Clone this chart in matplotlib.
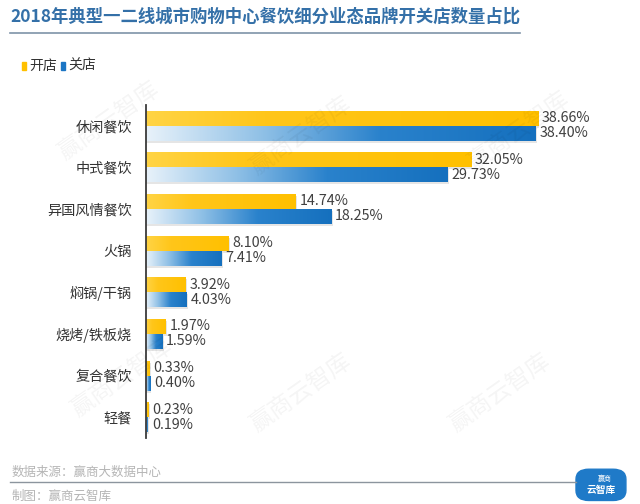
import numpy as np
import matplotlib
matplotlib.use("Agg")
import matplotlib.pyplot as plt
from matplotlib.colors import LinearSegmentedColormap
from matplotlib.patches import Rectangle, FancyBboxPatch

plt.rcParams['font.family'] = ['Noto Sans CJK SC', 'DejaVu Sans']

title = "2018年典型一二线城市购物中心餐饮细分业态品牌开关店数量占比"
categories = ["休闲餐饮", "中式餐饮", "异国风情餐饮", "火锅", "焖锅/干锅",
              "烧烤/铁板烧", "复合餐饮", "轻餐"]
open_pct = [38.66, 32.05, 14.74, 8.10, 3.92, 1.97, 0.33, 0.23]
close_pct = [38.40, 29.73, 18.25, 7.41, 4.03, 1.59, 0.40, 0.19]
series_names = ["开店", "关店"]
source_text = "数据来源：赢商大数据中心"
maker_text = "制图：赢商云智库"
watermark = "赢商云智库"

yellow_cm = LinearSegmentedColormap.from_list(
    "yl", [(0, "#FFD445"), (0.3, "#FFC61A"), (1, "#FFC000")])
blue_cm = LinearSegmentedColormap.from_list(
    "bl", [(0, "#E8F2FA"), (0.3, "#8FC0E6"), (0.6, "#2A82CC"), (1, "#1570BE")])

fig = plt.figure(figsize=(6.4, 5.04), dpi=100)
ax = fig.add_axes([0.228, 0.131, 0.713, 0.661])

h = 0.36
grad = np.linspace(0, 1, 256).reshape(1, -1)
for i, (vo, vc) in enumerate(zip(open_pct, close_pct)):
    for v, off, cm in ((vo, -h / 2, yellow_cm), (vc, h / 2, blue_cm)):
        yc = i + off
        # soft shadow
        ax.add_patch(Rectangle((0, yc - h / 2 + 0.05), v + 0.15, h,
                               color="#9a9a9a", alpha=0.25, lw=0, zorder=1))
        ax.imshow(grad, extent=[0, v, yc + h / 2, yc - h / 2], aspect="auto",
                  cmap=cm, interpolation="bicubic", zorder=2)
        ax.text(v + 0.4, yc, f"{v:.2f}%", va="center", ha="left",
                fontsize=10.3, color="#404040", zorder=3)

ax.set_xlim(0, 45)
ax.set_ylim(len(categories) - 0.5, -0.5)
ax.set_yticks(range(len(categories)))
ax.set_yticklabels(categories, fontsize=10.2, color="#333333")
ax.tick_params(axis="y", length=0, pad=10)
ax.set_xticks([])
for s in ("top", "right", "bottom"):
    ax.spines[s].set_visible(False)
ax.spines["left"].set_color("#3a3a3a")
ax.spines["left"].set_linewidth(1.3)
ax.set_facecolor("none")

# title and rule
fig.text(0.016, 0.968, title, fontsize=12.5, fontweight="bold",
         color="#3470A8", va="center", ha="left")
fig.add_artist(plt.Line2D([0.016, 0.812], [0.934, 0.934], color="#7E93A8",
                          lw=1.2, transform=fig.transFigure))

# legend
fig.add_artist(Rectangle((0.034, 0.862), 0.006, 0.014, color="#FFC000",
                         transform=fig.transFigure))
fig.text(0.045, 0.869, series_names[0], fontsize=10, color="#333333", va="center")
fig.add_artist(Rectangle((0.096, 0.862), 0.006, 0.014, color="#1B75C4",
                         transform=fig.transFigure))
fig.text(0.107, 0.869, series_names[1], fontsize=10, color="#333333", va="center")

# watermarks
for x, y in [(0.17, 0.76), (0.47, 0.73), (0.81, 0.74), (0.19, 0.25),
             (0.47, 0.22), (0.78, 0.22)]:
    fig.text(x, y, watermark, fontsize=17, color="#000000", alpha=0.045,
             rotation=35, ha="center", va="center")

# footer
fig.text(0.018, 0.062, source_text, fontsize=9, color="#B5B5B5", va="center")
fig.add_artist(plt.Line2D([0.016, 0.9], [0.044, 0.044], color="#8C959E",
                          lw=1.0, transform=fig.transFigure))
fig.text(0.018, 0.015, maker_text, fontsize=9, color="#B5B5B5", va="center")

# logo cloud
fig.add_artist(FancyBboxPatch((0.905, 0.012), 0.068, 0.052,
                              boxstyle="round,pad=0.005,rounding_size=0.02",
                              color="#1F7AC8", transform=fig.transFigure))
fig.text(0.945, 0.05, "赢商", fontsize=5, color="white", ha="center", va="center")
fig.text(0.94, 0.028, "云智库", fontsize=7, color="white", ha="center",
         va="center", style="italic", fontweight="bold")

fig.savefig("out.png", dpi=100)
